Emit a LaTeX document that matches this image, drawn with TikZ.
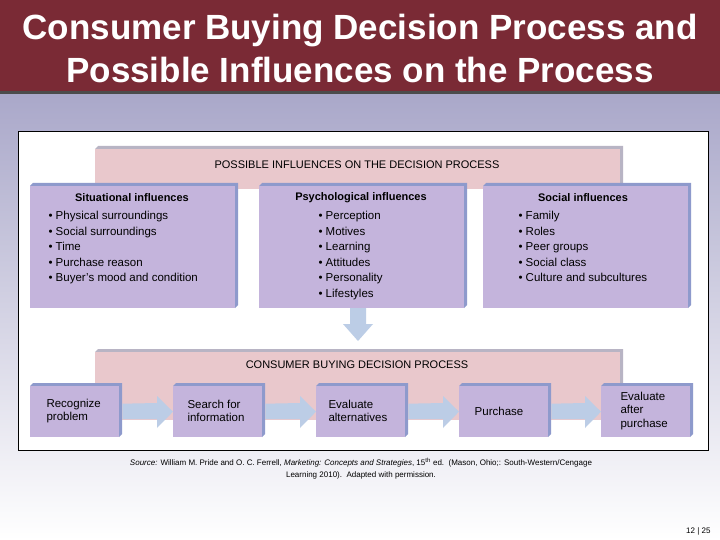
\documentclass[tikz,border=0pt]{standalone}
\usepackage{fontspec}
\setmainfont{Liberation Sans}
\definecolor{titlered}{HTML}{7A2A35}
\definecolor{boxfill}{HTML}{C4B4DC}
\definecolor{boxedge}{HTML}{8E9ACC}
\definecolor{pinkfill}{HTML}{E9C8CC}
\definecolor{pinkedge}{HTML}{B8B4C4}
\definecolor{arrowblue}{HTML}{BCCDE6}
\definecolor{bgtop}{HTML}{A9A7C9}
\begin{document}
\begin{tikzpicture}[x=1pt,y=-1pt,
  ibox/.style={fill=boxfill,anchor=north west,inner sep=0pt,align=left,text width=#1},
  infl/.style={ibox=205pt,minimum height=122pt},
  proc/.style={fill=boxfill,anchor=north west,minimum width=89pt,minimum height=51pt,inner sep=0pt},
  band/.style={fill=pinkfill,anchor=north west,inner sep=0pt,minimum width=525pt},
  flow/.style={fill=arrowblue},
  itm/.style={font=\fontsize{11.5}{15.5}\selectfont},
  ptxt/.style={font=\fontsize{11.5}{13.5}\selectfont,align=left},
  hdr/.style={font=\bfseries\fontsize{11}{13}\selectfont}]
\useasboundingbox (0,0) rectangle (720,540);
\shade[top color=bgtop,bottom color=white] (0,90) rectangle (720,540);
\fill[titlered] (0,0) rectangle (720,91);
\fill[black!70] (0,91) rectangle (720,94);
\node[text=white,font=\bfseries\fontsize{35}{43}\selectfont,align=center] (title) at (360,48) {Consumer Buying Decision Process and\\Possible Influences on the Process};
\node[draw=black,fill=white,anchor=north west,minimum width=690pt,minimum height=319pt,inner sep=0pt,line width=0.6pt] (panel) at (18,131) {};
% top band
\fill[pinkedge] (95,149) -- (98,146) -- (623,146) -- (623,185) -- (620,185) -- (620,149) -- cycle;
\node[band,minimum height=40pt] (b1) at (95,149) {};
\node[font=\fontsize{11}{13}\selectfont] (b1t) at (357,165) {POSSIBLE INFLUENCES ON THE DECISION PROCESS};
% influence boxes
\foreach \n/\x in {s/30,p/259,c/483}{
  \fill[boxedge] (\x,186) -- (\x+3,183) -- (\x+208,183) -- (\x+208,305) -- (\x+205,308) -- (\x+205,186) -- cycle;
  \node[infl] (\n) at (\x,186) {};
}
\node[hdr] (sh) at (132,198) {Situational influences};
\node[hdr] (ph) at (361,198) {Psychological influences};
\node[hdr] (ch) at (583,198) {Social influences};
\node[itm,anchor=north west,align=left] (si) at (45,208) {• Physical surroundings\\• Social surroundings\\• Time\\• Purchase reason\\• Buyer’s mood and condition};
\node[itm,anchor=north west,align=left] (pi) at (315,208) {• Perception\\• Motives\\• Learning\\• Attitudes\\• Personality\\• Lifestyles};
\node[itm,anchor=north west,align=left] (ci) at (515,208) {• Family\\• Roles\\• Peer groups\\• Social class\\• Culture and subcultures};
% down arrow
\coordinate (dtip) at (358,341);
\fill[flow] (350,308) -- (366,308) -- (366,324) -- (373,324) -- (dtip) -- (343,324) -- (350,324) -- cycle;
% bottom band
\fill[pinkedge] (95,352) -- (98,349) -- (623,349) -- (623,420) -- (620,420) -- (620,352) -- cycle;
\node[band,minimum height=68pt] (b2) at (95,352) {};
\node[font=\fontsize{11}{13}\selectfont] (b2t) at (357,365) {CONSUMER BUYING DECISION PROCESS};
% process boxes
\foreach \n/\x in {r/30,q/173,e/316,u/459,a/601}{
  \fill[boxedge] (\x,386) -- (\x+3,383) -- (\x+92,383) -- (\x+92,434) -- (\x+89,437) -- (\x+89,386) -- cycle;
  \node[proc] (\n) at (\x,386) {};
}
\foreach \a/\b in {r/q,q/e,e/u,u/a}{
  \fill[flow] ([xshift=3pt]\a.east) ++(0,-8) -- ([xshift=-16pt]\b.west |- 0,403) -- ([xshift=-16pt]\b.west |- 0,396)
     -- (\b.west) -- ([xshift=-16pt]\b.west |- 0,428) -- ([xshift=-16pt]\b.west |- 0,419) -- ([xshift=3pt]\a.east |- 0,419) -- cycle;
}
\node[ptxt,anchor=west] (rt) at (43,411) {Recognize\\problem};
\node[ptxt,anchor=west] (qt) at (184,411) {Search for\\information};
\node[ptxt,anchor=west] (et) at (325,411) {Evaluate\\alternatives};
\node[ptxt] (ut) at (499,411) {Purchase};
\node[ptxt,anchor=west] (at) at (617,411) {Evaluate\\after\\purchase};
% source
\node[font=\fontsize{8}{12}\selectfont,align=center] (src) at (361,469) {\textit{Source:} William M. Pride and O. C. Ferrell, \textit{Marketing: Concepts and Strategies}, 15\textsuperscript{th} ed.\ \ (Mason, Ohio;: South-Western/Cengage\\Learning 2010).\ \ Adapted with permission.};
\node[font=\fontsize{8}{10}\selectfont,anchor=east] (pg) at (714,531) {12 | 25};
\end{tikzpicture}
\end{document}
